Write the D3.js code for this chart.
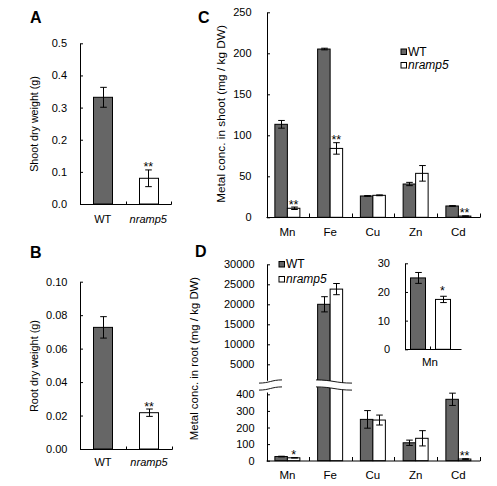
<!DOCTYPE html>
<html><head><meta charset="utf-8">
<script src="https://cdn.jsdelivr.net/npm/d3@7"></script>
<style>body{margin:0;background:#fff}</style>
</head><body><svg id="chart" width="497" height="486"></svg>
<script>
// ---------------- data ----------------
const genotypes = ["WT", "nramp5"];
const shootWeight = [0.332, 0.080];
const shootWeightErr = [0.031, 0.026];
const shootWeightSig = ["", "**"];
const rootWeight = [0.0727, 0.0217];
const rootWeightErr = [0.0064, 0.0022];
const rootWeightSig = ["", "**"];

const metals = ["Mn", "Fe", "Cu", "Zn", "Cd"];
const shootWT = [113.4, 205.2, 26.0, 40.6, 13.8];
const shootWTErr = [4.7, 1.0, 0.5, 2.0, 0.4];
const shootMut = [11.0, 84.0, 26.8, 53.6, 1.5];
const shootMutErr = [1.5, 7.0, 0.5, 9.5, 0.2];
const shootMutSig = ["**", "**", "", "", "**"];

const rootWT = [25, 20000, 249, 108, 370];
const rootWTErr = [2, 1900, 53, 16, 37];
const rootMut = [17.4, 23800, 245, 135, 10];
const rootMutErr = [1.1, 1400, 30, 46, 2];
const rootMutSig = ["*", "", "", "", "**"];

const insetMetal = ["Mn"];
const insetVals = [24.9, 17.4];
const insetErr = [1.9, 1.1];
const insetSig = ["", "*"];

const ticksA = [0, 0.1, 0.2, 0.3, 0.4, 0.5];
const ticksB = [0, 0.02, 0.04, 0.06, 0.08, 0.10];
const ticksC = [0, 50, 100, 150, 200, 250];
const ticksDUpper = [5000, 10000, 15000, 20000, 25000, 30000];
const ticksDLower = [0, 100, 200, 300, 400];
const ticksInset = [0, 10, 20, 30];

// ---------------- helpers ----------------
const svg = d3.select("#chart");
const FONT = '"Liberation Sans", Arial, Helvetica, sans-serif';
const FILL = { "WT": "#666666", "nramp5": "#ffffff" };

function styleAxis(g, fs) {
  g.attr("font-family", FONT).attr("font-size", fs);
  g.selectAll("path, line").attr("stroke", "#000").attr("stroke-width", 1);
  g.selectAll("text").attr("fill", "#000");
}
function leftAxis(scale, ticks, x, fmt, pad, fs) {
  const g = svg.append("g").attr("transform", `translate(${x},0)`)
    .call(d3.axisLeft(scale).tickValues(ticks).tickFormat(fmt)
      .tickSizeInner(-3).tickSizeOuter(0).tickPadding(pad));
  styleAxis(g, fs || 11);
  return g;
}
function baseline(scale, y) {
  const g = svg.append("g").attr("transform", `translate(0,${y})`)
    .call(d3.axisBottom(scale).tickSize(0).tickFormat(""));
  styleAxis(g, 11);
  g.selectAll(".tick").remove();
  return g;
}
function bottomLabels(scale, y, pad, fs) {
  const g = svg.append("g").attr("transform", `translate(0,${y})`)
    .call(d3.axisBottom(scale).tickSize(0).tickPadding(pad));
  g.select(".domain").remove();
  styleAxis(g, fs || 11);
  g.selectAll(".tick text").attr("font-style", d => d === "nramp5" ? "italic" : "normal");
  return g;
}
function separators(xs, y, h) {
  svg.append("g").selectAll("line").data(xs).join("line")
    .attr("x1", d => Math.round(d) + 0.5).attr("x2", d => Math.round(d) + 0.5)
    .attr("y1", y + 0.5).attr("y2", y + 0.5 - h)
    .attr("stroke", "#000");
}
function drawBars(rows) {
  svg.append("g").selectAll("rect").data(rows).join("rect")
    .attr("x", d => d.x).attr("y", d => d.top)
    .attr("width", d => d.w).attr("height", d => Math.max(0, d.base - d.top))
    .attr("fill", d => d.fill).attr("stroke", "#000").attr("stroke-width", 1);
}
function drawErr(rows) {
  const g = svg.append("g").attr("stroke", "#000").attr("stroke-width", 1);
  rows.forEach(d => {
    const cx = Math.round(d.cx) + 0.5;
    g.append("line").attr("x1", cx).attr("x2", cx).attr("y1", d.hi).attr("y2", d.lo);
    g.append("line").attr("x1", cx - 3.3).attr("x2", cx + 3.3).attr("y1", d.hi).attr("y2", d.hi);
    g.append("line").attr("x1", cx - 3.3).attr("x2", cx + 3.3).attr("y1", d.lo).attr("y2", d.lo);
  });
}
function drawSig(rows, fs, off) {
  svg.append("g").selectAll("text").data(rows.filter(d => d.s)).join("text")
    .attr("x", d => d.cx).attr("y", d => d.hi + off)
    .attr("text-anchor", "middle").attr("font-family", FONT).attr("font-size", fs)
    .attr("fill", "#000").text(d => d.s);
}
function yTitle(txt, x, y, fs) {
  svg.append("text").attr("transform", `translate(${x},${y}) rotate(-90)`)
    .attr("text-anchor", "middle").attr("font-family", FONT).attr("font-size", fs)
    .attr("fill", "#000").text(txt);
}
function letter(txt, x, y) {
  svg.append("text").attr("x", x).attr("y", y).attr("font-family", FONT)
    .attr("font-size", 16).attr("font-weight", "bold").attr("fill", "#000").text(txt);
}
function legend(x, y0, dy) {
  const g = svg.append("g");
  genotypes.forEach((gt, i) => {
    const y = y0 + i * dy;
    g.append("rect").attr("x", x + 0.5).attr("y", y - 6.5).attr("width", 5.5).attr("height", 5.5)
      .attr("fill", FILL[gt]).attr("stroke", "#000").attr("stroke-width", 1);
    g.append("text").attr("x", x + 7.5).attr("y", y).attr("font-family", FONT).attr("font-size", 12)
      .attr("font-style", gt === "nramp5" ? "italic" : "normal").attr("fill", "#000").text(gt);
  });
}

// simple two-bar panel
function twoBar(x, y, vals, errs, sigs) {
  const bw = x.bandwidth(), y0 = y(0);
  const rows = genotypes.map((g, i) => ({
    x: Math.round(x(g)) + 0.5, w: Math.round(bw), top: y(vals[i]), base: y0, fill: FILL[g],
    cx: x(g) + bw / 2, hi: y(vals[i] + errs[i]), lo: y(vals[i] - errs[i]), s: sigs[i]
  }));
  drawBars(rows);
  drawErr(rows);
  return rows;
}

// ---------------- Panel A ----------------
{
  const x = d3.scaleBand().domain(genotypes).range([80, 171]).paddingInner(0.58).paddingOuter(0.29);
  const y = d3.scaleLinear().domain([0, 0.5]).range([204, 43.3]);
  const rows = twoBar(x, y, shootWeight, shootWeightErr, shootWeightSig);
  drawSig(rows, 12.5, 1.5);
  baseline(x, 204);
  separators([x(genotypes[0]) + (x.step() + x.bandwidth()) / 2, 171], 204, 3);
  leftAxis(y, ticksA, 80, d3.format(".1f"), 13);
  bottomLabels(x, 204, 11.5, 11);
  yTitle("Shoot dry weight (g)", 37.5, 124, 10.7);
  letter("A", 30, 23);
}
// ---------------- Panel B ----------------
{
  const x = d3.scaleBand().domain(genotypes).range([80, 172]).paddingInner(0.58).paddingOuter(0.29);
  const y = d3.scaleLinear().domain([0, 0.10]).range([449, 281.7]);
  const rows = twoBar(x, y, rootWeight, rootWeightErr, rootWeightSig);
  drawSig(rows, 12.5, 1.5);
  baseline(x, 449);
  separators([x(genotypes[0]) + (x.step() + x.bandwidth()) / 2, 172], 449, 3);
  leftAxis(y, ticksB, 80, d3.format(".2f"), 12.5);
  bottomLabels(x, 449, 9.5, 11);
  yTitle("Root dry weight (g)", 37.5, 366, 10.9);
  letter("B", 30, 258);
}

// grouped bars for C and D
const xM = d3.scaleBand().domain(metals).range([266, 479.75]);
const xG = d3.scaleBand().domain(genotypes).range([0, 25]);
function groupedRows(wt, wtE, mut, mutE, mutSig, yFor, base) {
  const rows = [];
  metals.forEach((m, j) => {
    const off = xM(m) + (xM.bandwidth() - 25) / 2;
    [[wt, wtE, "WT", ""], [mut, mutE, "nramp5", mutSig[j]]].forEach(([v, e, g, s]) => {
      const y = yFor(m);
      rows.push({
        x: off + xG(g), w: xG.bandwidth(), top: y(v[j]), base: base, fill: FILL[g],
        cx: off + xG(g) + xG.bandwidth() / 2, hi: y(v[j] + e[j]), lo: y(v[j] - e[j]), s: s
      });
    });
  });
  return rows;
}
const sepXs = metals.map(m => xM(m) + xM.bandwidth());

// ---------------- Panel C ----------------
{
  const y = d3.scaleLinear().domain([0, 250]).range([217.3, 12.3]);
  const rows = groupedRows(shootWT, shootWTErr, shootMut, shootMutErr, shootMutSig, () => y, y(0));
  drawBars(rows);
  drawErr(rows);
  drawSig(rows, 12.5, 1.5);
  baseline(xM, 217);
  separators(sepXs, 217, 4);
  leftAxis(y, ticksC, 267, d3.format("d"), 15.5);
  bottomLabels(xM, 217, 10.5, 11.5);
  yTitle("Metal conc. in shoot (mg / kg DW)", 224.5, 114, 11.8);
  letter("C", 198, 23);
  legend(400.5, 55.5, 13.5);
}

// ---------------- Panel D ----------------
{
  const yU = d3.scaleLinear().domain([1000, 30000]).range([380.3, 264.3]);
  const yL = d3.scaleLinear().domain([0, 414]).range([460.7, 392]);
  const yFor = m => (m === "Fe" ? yU : yL);
  const rows = groupedRows(rootWT, rootWTErr, rootMut, rootMutErr, rootMutSig, yFor, yL(0));
  drawBars(rows);
  drawErr(rows);
  drawSig(rows, 12.5, 1);
  baseline(xM, 460.5);
  separators(sepXs, 460.5, 4);
  leftAxis(yU, ticksDUpper, 267, d3.format("d"), 12.5);
  leftAxis(yL, ticksDLower, 267, d3.format("d"), 12.5);

  // axis-break marks
  function brk(xa, xb, rise) {
    const c1 = 381.5, c2 = 388.5, a = rise * 1.6;
    const curve = (yc) => `M${xa},${yc + a} C${xa + (xb - xa) * 0.45},${yc + a} ${xa + (xb - xa) * 0.55},${yc - a} ${xb},${yc - a}`;
    const band = `M${xa},${c1 + a} C${xa + (xb - xa) * 0.45},${c1 + a} ${xa + (xb - xa) * 0.55},${c1 - a} ${xb},${c1 - a}` +
      ` L${xb},${c2 - a} C${xa + (xb - xa) * 0.55},${c2 - a} ${xa + (xb - xa) * 0.45},${c2 + a} ${xa},${c2 + a} Z`;
    svg.append("path").attr("d", band).attr("fill", "#fff").attr("stroke", "none");
    [c1, c2].forEach(c => svg.append("path").attr("d", curve(c)).attr("fill", "none")
      .attr("stroke", "#000").attr("stroke-width", 0.9));
  }
  brk(259, 282, 1);
  brk(316, 352, -1);

  bottomLabels(xM, 460.5, 10, 11.5);
  yTitle("Metal conc. in root (mg / kg DW)", 198, 358.5, 11.4);
  letter("D", 195, 257);
  legend(278.5, 268, 15);

  // inset
  const xi = d3.scaleBand().domain(genotypes).range([405, 461]).paddingInner(0.4).paddingOuter(0.32).align(0.3125);
  const xiLab = d3.scaleBand().domain(insetMetal).range([405, 455]);
  const yi = d3.scaleLinear().domain([0, 30]).range([349.3, 263.3]);
  const irows = twoBar(xi, yi, insetVals, insetErr, insetSig);
  drawSig(irows, 12.5, -1);
  baseline(xi, 349);
  separators([xi(genotypes[0]) + (xi.step() + xi.bandwidth()) / 2], 349, 3);
  leftAxis(yi, ticksInset, 405, d3.format("d"), 15);
  bottomLabels(xiLab, 349, 9, 11.5);
}
</script></body></html>
